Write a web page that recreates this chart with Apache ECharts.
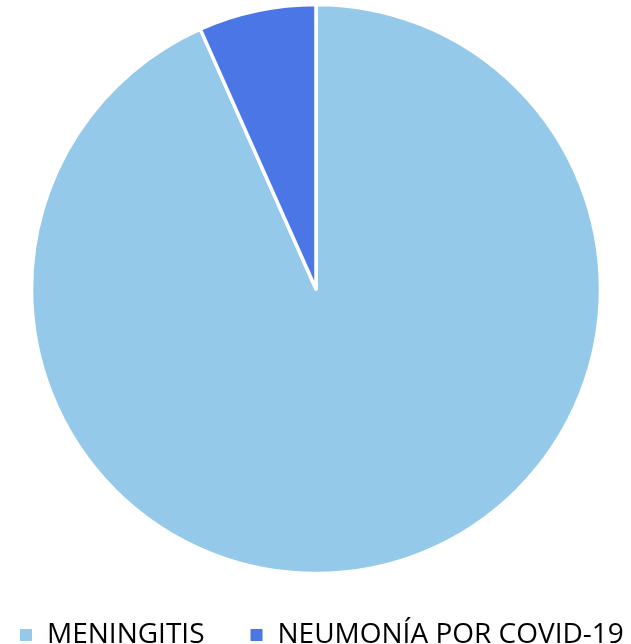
<!DOCTYPE html>
<html>
<head>
<meta charset="utf-8">
<script src="https://cdn.jsdelivr.net/npm/echarts@6/dist/echarts.min.js"></script>
<style>html,body{margin:0;padding:0;background:#fff}#c{width:631px;height:644px}</style>
</head>
<body>
<div id="c"></div>
<script>
const categories = ["MENINGITIS", "NEUMONÍA POR COVID-19"];
const values = [14, 1];
const colors = ["#95C9EA", "#4A76E6"];

const chart = echarts.init(document.getElementById('c'), null, {renderer: 'canvas'});
chart.setOption({
  animation: false,
  color: colors,
  legend: {
    data: categories,
    left: 13,
    top: 616,
    itemWidth: 14,
    itemHeight: 14,
    itemGap: 44,
    icon: 'rect',
    textStyle: {fontFamily: 'Open Sans', fontSize: 28, color: '#000', padding: [0,0,0,9]}
  },
  series: [{
    type: 'pie',
    center: [316, 289],
    radius: [0, 284.5],
    startAngle: 90,
    clockwise: true,
    label: {show: false},
    labelLine: {show: false},
    itemStyle: {borderColor: '#fff', borderWidth: 3.5},
    data: categories.map((n, i) => ({name: n, value: values[i]}))
  }]
});
</script>
</body>
</html>
